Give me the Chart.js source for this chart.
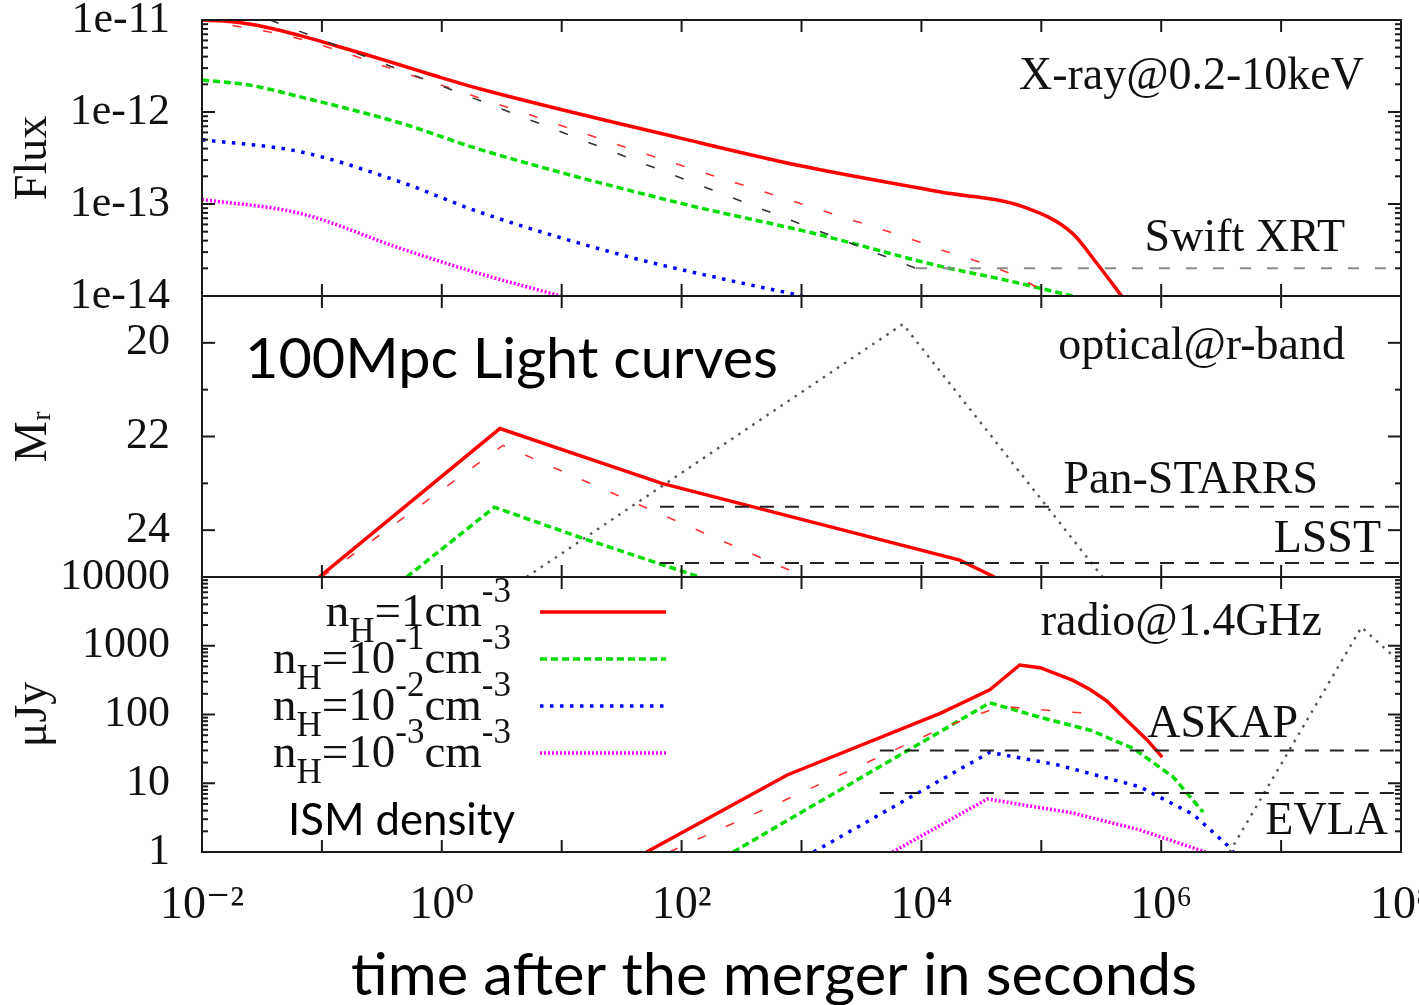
<!DOCTYPE html>
<html><head><meta charset="utf-8">
<script src="https://cdn.jsdelivr.net/npm/chart.js@4.4.1/dist/chart.umd.min.js"></script>
<style>html,body{margin:0;padding:0;background:#fff;}canvas{display:block;}</style>
</head><body>
<canvas id="c" width="1419" height="1005"></canvas>
<script>
// ---------------- tick labels ----------------
const xTickValues = [1e-2, 1e0, 1e2, 1e4, 1e6, 1e8];
const xTickLabels = ['10⁻²', '10⁰', '10²', '10⁴', '10⁶', '10⁸'];
const xrayTickValues = [1e-14, 1e-13, 1e-12, 1e-11];
const xrayTickLabels = ['1e-14', '1e-13', '1e-12', '1e-11'];
const optTickValues = [20, 22, 24];
const optTickLabels = ['20', '22', '24'];
const radioTickValues = [1, 10, 100, 1000, 10000];
const radioTickLabels = ['1', '10', '100', '1000', '10000'];

// ---------------- labels ----------------
const xAxisTitle = 'time after the merger in seconds';
const seriesLabels = ['n_H=1cm^{-3}', 'n_H=10^{-1}cm^{-3}', 'n_H=10^{-2}cm^{-3}', 'n_H=10^{-3}cm^{-3}'];
const panelTexts = ['X-ray@0.2-10keV', 'Swift XRT', 'optical@r-band', 'Pan-STARRS', 'LSST', 'radio@1.4GHz', 'ASKAP', 'EVLA'];
const noteTexts = ['100Mpc Light curves', 'ISM density'];

// ---------------- X-ray panel (flux) ----------------
const xrayT_n0 = [0.01, 0.018, 0.035, 0.066, 0.123, 0.24, 0.45, 0.85, 2.1, 98, 980, 14500, 71000, 182000, 288000, 468000];
const xrayF_n0 = [1.0e-11, 9.55e-12, 8.3e-12, 6.76e-12, 5.37e-12, 4.17e-12, 3.24e-12, 2.51e-12, 1.78e-12, 5.2e-13, 2.6e-13, 1.35e-13, 9.3e-14, 4.8e-14, 2.3e-14, 1.0e-14];
const xrayT_n0b = [0.01, 0.063, 0.45, 3.7, 39, 1260, 12600, 98000, 112000];
const xrayF_n0b = [1.0e-11, 6.3e-12, 2.75e-12, 1.1e-12, 3.9e-13, 9.1e-14, 3.4e-14, 1.17e-14, 1.0e-14];
const xrayT_ref = [0.037, 9000];
const xrayF_ref = [1.0e-11, 2.0e-14];
const xrayT_n1 = [0.01, 0.025, 0.066, 0.45, 2.1, 98, 1260, 14500, 51300, 182000];
const xrayF_n1 = [2.23e-12, 1.96e-12, 1.46e-12, 7.6e-13, 3.9e-13, 1.02e-13, 4.8e-14, 2.1e-14, 1.48e-14, 1.0e-14];
const xrayT_n2 = [0.01, 0.066, 0.45, 2.1, 39, 251, 1020];
const xrayF_n2 = [5.0e-13, 3.7e-13, 1.74e-13, 8.1e-14, 2.6e-14, 1.48e-14, 1.0e-14];
const xrayT_n3 = [0.01, 0.066, 0.45, 2.1, 9.8];
const xrayF_n3 = [1.12e-13, 7.9e-14, 3.3e-14, 1.74e-14, 1.0e-14];
const swiftT = [9000, 1e8];
const swiftF = [2.0e-14, 2.0e-14];

// ---------------- optical panel (M_r) ----------------
const optT_n0 = [0.095, 3.05, 68.5, 20900, 40700];
const optM_n0 = [25.0, 21.83, 23.0, 24.64, 25.0];
const optT_n0b = [0.1, 3.24, 1070];
const optM_n0b = [25.0, 22.19, 25.0];
const optT_n1 = [0.51, 2.75, 14.1, 141];
const optM_n1 = [25.0, 23.51, 24.15, 25.0];
const optT_ref = [5.1, 7000, 324000];
const optM_ref = [25.0, 19.6, 25.0];
const panstarrsT = [66, 1e8];
const panstarrsM = [23.5, 23.5];
const lsstT = [66, 1e8];
const lsstM = [24.7, 24.7];

// ---------------- radio panel (uJy) ----------------
const radioT_n0 = [51, 760, 14500, 37200, 66000, 97700, 182000, 257000, 355000, 513000, 759000, 1020000];
const radioF_n0 = [1, 13.2, 105, 229, 525, 479, 316, 229, 155, 83, 43, 24];
const radioT_n0b = [79, 912, 14800, 45700, 151000, 309000];
const radioF_n0b = [1, 6.8, 63, 132, 110, 102];
const radioT_n1 = [269, 37200, 97700, 257000, 589000, 1260000, 2240000];
const radioF_n1 = [1, 148, 91, 59, 32, 12.3, 3.8];
const radioT_n2 = [1260, 37200, 135000, 661000, 1860000, 3720000, 3980000];
const radioF_n2 = [1, 28.2, 18.6, 8.9, 3.5, 1.17, 1.0];
const radioT_n3 = [5750, 35500, 182000, 661000, 2340000];
const radioF_n3 = [1, 5.9, 3.7, 2.1, 1.0];
const radioT_ref = [3720000, 46800000, 1e8];
const radioF_ref = [1, 1860, 560];
const askapT = [4500, 1e8];
const askapF = [30, 30];
const evlaT = [4500, 1e8];
const evlaF = [7.2, 7.2];

// ---------------- styles ----------------
const ST = {
  red:   {c: '#ff0000', w: 3.5, d: []},
  redT:  {c: '#ff3030', w: 1.6, d: [9, 22]},
  green: {c: '#00dd00', w: 3.5, d: [7, 4]},
  blue:  {c: '#0000ff', w: 3.5, d: [3.5, 6.5]},
  mag:   {c: '#ff00ff', w: 3.5, d: [2, 2]},
  blkT:  {c: '#333333', w: 1.6, d: [9, 22]},
  gdot:  {c: '#555555', w: 2.4, d: [2.5, 6]},
  thr:   {c: '#222222', w: 2, d: [14, 11]},
  swift: {c: '#8a8a8a', w: 2, d: [11, 16]}
};
function ds(label, T, V, axis, s, smooth) {
  return {label, data: T.map((t, i) => ({x: t, y: V[i]})), yAxisID: axis,
    borderColor: s.c, backgroundColor: s.c, borderWidth: s.w, borderDash: s.d,
    pointRadius: 0, fill: false, tension: 0, borderCapStyle: 'butt',
    cubicInterpolationMode: smooth ? 'monotone' : 'default'};
}
const datasets = [
  ds('Swift XRT', swiftT, swiftF, 'yX', ST.swift),
  ds('X-ray reference', xrayT_ref, xrayF_ref, 'yX', ST.blkT),
  ds('X-ray ' + seriesLabels[0] + ' (alt)', xrayT_n0b, xrayF_n0b, 'yX', ST.redT, true),
  ds('X-ray ' + seriesLabels[3], xrayT_n3, xrayF_n3, 'yX', ST.mag, true),
  ds('X-ray ' + seriesLabels[2], xrayT_n2, xrayF_n2, 'yX', ST.blue, true),
  ds('X-ray ' + seriesLabels[1], xrayT_n1, xrayF_n1, 'yX', ST.green, true),
  ds('X-ray ' + seriesLabels[0], xrayT_n0, xrayF_n0, 'yX', ST.red, true),

  ds('Pan-STARRS', panstarrsT, panstarrsM, 'yOpt', ST.thr),
  ds('LSST', lsstT, lsstM, 'yOpt', ST.thr),
  ds('optical reference', optT_ref, optM_ref, 'yOpt', ST.gdot),
  ds('optical ' + seriesLabels[0] + ' (alt)', optT_n0b, optM_n0b, 'yOpt', ST.redT),
  ds('optical ' + seriesLabels[1], optT_n1, optM_n1, 'yOpt', ST.green),
  ds('optical ' + seriesLabels[0], optT_n0, optM_n0, 'yOpt', ST.red),

  ds('ASKAP', askapT, askapF, 'yRadio', ST.thr),
  ds('EVLA', evlaT, evlaF, 'yRadio', ST.thr),
  ds('radio reference', radioT_ref, radioF_ref, 'yRadio', ST.gdot),
  ds('radio ' + seriesLabels[0] + ' (alt)', radioT_n0b, radioF_n0b, 'yRadio', ST.redT),
  ds('radio ' + seriesLabels[3], radioT_n3, radioF_n3, 'yRadio', ST.mag),
  ds('radio ' + seriesLabels[2], radioT_n2, radioF_n2, 'yRadio', ST.blue),
  ds('radio ' + seriesLabels[1], radioT_n1, radioF_n1, 'yRadio', ST.green),
  ds('radio ' + seriesLabels[0], radioT_n0, radioF_n0, 'yRadio', ST.red)
];
const legendStyles = [ST.red, ST.green, ST.blue, ST.mag];

const SERIF = '"Liberation Serif", "DejaVu Serif", serif';
const SANS = 'Lato, "Open Sans", sans-serif';
const INK = '#111111';

function yAxis(type, min, max, weight, vals, labels, title, reverse) {
  return {
    type, min, max, reverse: !!reverse, position: 'left', stack: 'panels', stackWeight: weight,
    grid: {display: false, drawTicks: false}, border: {display: false},
    afterBuildTicks: (s) => { s.ticks = vals.map(v => ({value: v})); },
    afterFit: (s) => { s.width = 202; s.paddingTop = 0; s.paddingBottom = 0; },
    ticks: {autoSkip: false, padding: 32, color: INK, font: {family: SERIF, size: 44},
      callback: (v, i) => labels[i]},
    title: {display: true, text: title, color: INK, font: {family: SERIF, size: 46}, padding: {top: 6, bottom: 0}}
  };
}

// rich text: _X or _{..} subscript, ^{..} superscript
function parseRich(str) {
  const out = []; let i = 0, buf = '';
  const flush = () => { if (buf) { out.push({t: buf, k: ''}); buf = ''; } };
  while (i < str.length) {
    const ch = str[i];
    if (ch === '_' || ch === '^') {
      flush(); const k = ch === '_' ? 'sub' : 'sup'; let t;
      if (str[i + 1] === '{') { const j = str.indexOf('}', i); t = str.slice(i + 2, j); i = j + 1; }
      else { t = str[i + 1]; i += 2; }
      out.push({t, k});
    } else { buf += ch; i++; }
  }
  flush(); return out;
}
function drawRich(ctx, str, xRight, yBase, size, small) {
  const segs = parseRich(str); let total = 0;
  segs.forEach(s => { ctx.font = (s.k ? small : size) + 'px ' + SERIF; s.w = ctx.measureText(s.t).width; total += s.w; });
  let x = xRight - total;
  ctx.textAlign = 'left'; ctx.textBaseline = 'alphabetic';
  segs.forEach(s => {
    ctx.font = (s.k ? small : size) + 'px ' + SERIF;
    const dy = s.k === 'sub' ? 16 : (s.k === 'sup' ? -24 : 0);
    ctx.fillText(s.t, x, yBase + dy); x += s.w;
  });
}
function drawStretched(ctx, text, x, y, font, targetW) {
  ctx.font = font; const w = ctx.measureText(text).width;
  ctx.save(); ctx.translate(x, y); ctx.scale(targetW / w, 1);
  ctx.textAlign = 'left'; ctx.textBaseline = 'alphabetic'; ctx.fillText(text, 0, 0); ctx.restore();
}

const panelPlugin = {
  id: 'panelDecor',
  afterDatasetsDraw(chart) {
    const ctx = chart.ctx, xs = chart.scales.x, ca = chart.chartArea;
    const L = ca.left, R = ca.right;
    const line = (a, b, c, d) => { ctx.beginPath(); ctx.moveTo(a, b); ctx.lineTo(c, d); ctx.stroke(); };
    ctx.save();
    ctx.strokeStyle = '#1a1a1a'; ctx.setLineDash([]);
    ['yX', 'yOpt', 'yRadio'].forEach(id => {
      const ys = chart.scales[id]; const T = ys.top, B = ys.bottom;
      ctx.lineWidth = 2; ctx.strokeRect(L, T, R - L, B - T);
      for (let d = -2; d <= 8; d++) {
        const px = xs.getPixelForValue(Math.pow(10, d));
        line(px, T, px, T + 12); line(px, B, px, B - 12);
      }
      if (ys.type === 'logarithmic') {
        const lo = Math.round(Math.log10(ys.min)), hi = Math.round(Math.log10(ys.max));
        for (let e = lo; e <= hi; e++) for (let m = 1; m < 10; m++) {
          if (e === hi && m > 1) break;
          const py = ys.getPixelForValue(m * Math.pow(10, e)); const len = m === 1 ? 13 : 6;
          line(L, py, L + len, py); line(R, py, R - len, py);
        }
      } else {
        for (let v = Math.ceil(ys.min); v <= ys.max; v++) {
          const py = ys.getPixelForValue(v); const len = v % 2 === 0 ? 13 : 6;
          line(L, py, L + len, py); line(R, py, R - len, py);
        }
      }
    });
    // panel texts
    ctx.fillStyle = INK; ctx.font = '46px ' + SERIF; ctx.textAlign = 'right'; ctx.textBaseline = 'alphabetic';
    const pos = [[1364, 89], [1345, 251], [1345, 359], [1318, 493], [1381, 552], [1322, 635], [1298, 737], [1388, 834]];
    panelTexts.forEach((t, i) => ctx.fillText(t, pos[i][0], pos[i][1]));
    // notes (sans)
    ctx.fillStyle = '#000';
    drawStretched(ctx, noteTexts[0], 245, 378, '56px ' + SANS, 533);
    drawStretched(ctx, noteTexts[1], 288, 835, '44px ' + SANS, 227);
    // x axis title
    drawStretched(ctx, xAxisTitle, 351, 995, '58px ' + SANS, 846);
    // legend
    ctx.fillStyle = INK;
    const bases = [626, 673, 720, 767];
    seriesLabels.forEach((lab, i) => {
      drawRich(ctx, lab, 511, bases[i], 47, 35);
      const s = legendStyles[i];
      ctx.save(); ctx.strokeStyle = s.c; ctx.lineWidth = s.w; ctx.setLineDash(s.d); ctx.lineCap = 'butt';
      line(540, bases[i] - 14, 666, bases[i] - 14); ctx.restore();
    });
    ctx.restore();
  }
};

Chart.defaults.font.family = SERIF;
new Chart(document.getElementById('c'), {
  type: 'line',
  data: {datasets},
  options: {
    responsive: false, animation: false, devicePixelRatio: 1,
    layout: {padding: {top: 20, right: 18, left: 0, bottom: 0}},
    plugins: {legend: {display: false}, tooltip: {enabled: false}, title: {display: false}},
    scales: {
      x: {
        type: 'logarithmic', min: 1e-2, max: 1e8, position: 'bottom',
        grid: {display: false, drawTicks: false}, border: {display: false},
        afterBuildTicks: (s) => { s.ticks = xTickValues.map(v => ({value: v})); },
        afterFit: (s) => { s.height = 153; s.paddingLeft = 0; s.paddingRight = 0; },
        ticks: {autoSkip: false, maxRotation: 0, padding: 26, color: INK, font: {family: SERIF, size: 46},
          callback: (v, i) => xTickLabels[i]},
        title: {display: false, text: xAxisTitle}
      },
      yRadio: yAxis('logarithmic', 1, 10000, 275, radioTickValues, radioTickLabels, 'μJy'),
      yOpt: yAxis('linear', 19, 25, 281, optTickValues, optTickLabels, 'Mᵣ', true),
      yX: yAxis('logarithmic', 1e-14, 1e-11, 276, xrayTickValues, xrayTickLabels, 'Flux')
    }
  },
  plugins: [panelPlugin]
});
</script>
</body></html>
